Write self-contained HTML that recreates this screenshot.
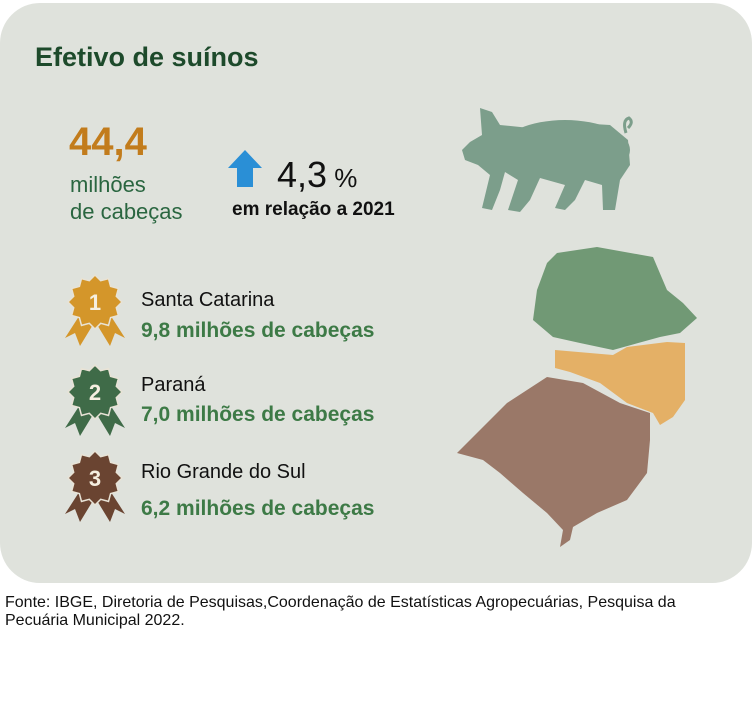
<!DOCTYPE html>
<html><head><meta charset="utf-8"><style>
html,body{margin:0;padding:0;background:#fff;width:754px;height:717px;overflow:hidden;font-family:"Liberation Sans","DejaVu Sans",sans-serif}
.card{position:absolute;left:0;top:3px;width:752px;height:580px;background:#dfe2dc;border-radius:40px}
.t{position:absolute;white-space:nowrap}
</style></head><body>
<div class="card"></div>
<svg id="s" width="754" height="717" style="position:absolute;left:0;top:0">
<g fill="#7c9e8b">
<ellipse cx="565" cy="150" rx="65" ry="30"/>
<path d="M480 108 L492 112 L500 125 L530 128 L560 122 L610 125 L628 140 L630 165 L620 180 L615 210 L603 210 L602 185 L585 180 L575 200 L565 210 L555 208 L565 185 L540 178 L530 200 L520 212 L508 210 L518 180 L505 172 L500 190 L492 210 L482 208 L490 175 L478 165 L465 160 L462 150 L470 142 L482 135 Z"/>
<path d="M626 133 Q622 120 629 118 Q634 122 628 128" fill="none" stroke="#7c9e8b" stroke-width="3"/>
</g>
<polygon fill="#719975" points="557,253 597,247 653,257 667,290 683,303 697,318 680,333 660,337 613,350 580,343 553,337 533,320 537,290 547,263"/>
<polygon fill="#e4b066" points="555,350 613,355 627,347 667,342 685,343 685,400 673,417 660,425 653,413 627,403 600,383 570,372 555,368"/>
<polygon fill="#9a7868" points="547,377 583,383 620,403 650,413 650,440 647,473 627,500 597,513 573,527 570,540 560,547 563,530 547,513 523,493 500,473 483,460 457,453 473,437 507,403"/>
<polygon fill="#2a8fd6" points="245,150 262,168 253,168 253,187 237,187 237,168 228,168"/>
</svg>
<div class="t" style="left:35px;top:42px;font-size:27px;font-weight:bold;color:#1d4a2b">Efetivo de suínos</div>
<div class="t" style="left:69px;top:120px;font-size:40px;font-weight:bold;color:#c27c1c">44,4</div>
<div class="t" style="left:70px;top:171px;font-size:22px;color:#2a6640;line-height:27px">milhões<br>de cabeças</div>
<div class="t" style="left:277px;top:154px;font-size:36px;color:#111">4,3<span style="font-size:26px"> %</span></div>
<div class="t" style="left:232px;top:199px;font-size:19px;font-weight:bold;color:#111">em relação a 2021</div>
<div class="t" style="left:141px;top:289px;font-size:20px;color:#111">Santa Catarina</div>
<div class="t" style="left:141px;top:319px;font-size:21px;font-weight:bold;color:#3d7a46">9,8 milhões de cabeças</div>
<div class="t" style="left:141px;top:374px;font-size:20px;color:#111">Paraná</div>
<div class="t" style="left:141px;top:403px;font-size:21px;font-weight:bold;color:#3d7a46">7,0 milhões de cabeças</div>
<div class="t" style="left:141px;top:461px;font-size:20px;color:#111">Rio Grande do Sul</div>
<div class="t" style="left:141px;top:497px;font-size:21px;font-weight:bold;color:#3d7a46">6,2 milhões de cabeças</div>
<div class="t" style="left:5px;top:594px;font-size:16px;color:#111;line-height:18px">Fonte: IBGE, Diretoria de Pesquisas,Coordenação de Estatísticas Agropecuárias, Pesquisa da<br>Pecuária Municipal 2022.</div>
<script>
var s=document.getElementById('s'),ns='http://www.w3.org/2000/svg';
[[95,302,'#d4962a','1'],[95,392,'#3f6b48','2'],[95,478,'#6a4431','3']].forEach(function(b){
 var cx=b[0],cy=b[1],c=b[2];
 var r=document.createElementNS(ns,'polygon');
 r.setAttribute('fill',c);
 r.setAttribute('points',[cx-12,cy+8,cx-30,cy+36,cx-20,cy+31,cx-15,cy+44,cx+2,cy+16].join(' '));
 s.appendChild(r);
 var r2=document.createElementNS(ns,'polygon');r2.setAttribute('fill',c);
 r2.setAttribute('points',[cx+12,cy+8,cx+30,cy+36,cx+20,cy+31,cx+15,cy+44,cx-2,cy+16].join(' '));s.appendChild(r2);
 var p=[];for(var i=0;i<24;i++){var a=i*Math.PI/12-Math.PI/2,rr=i%2?22:27;p.push((cx+rr*Math.cos(a)).toFixed(1)+','+(cy+rr*Math.sin(a)).toFixed(1));}
 var st=document.createElementNS(ns,'polygon');st.setAttribute('fill',c);st.setAttribute('stroke','#e8e3d6');st.setAttribute('stroke-width','1.5');st.setAttribute('points',p.join(' '));s.appendChild(st);
 var t=document.createElementNS(ns,'text');t.setAttribute('x',cx);t.setAttribute('y',cy+8);t.setAttribute('text-anchor','middle');t.setAttribute('font-size','22');t.setAttribute('font-weight','bold');t.setAttribute('fill','#f6efe0');t.setAttribute('font-family','Liberation Sans, sans-serif');t.textContent=b[3];s.appendChild(t);
});
</script>
</body></html>
